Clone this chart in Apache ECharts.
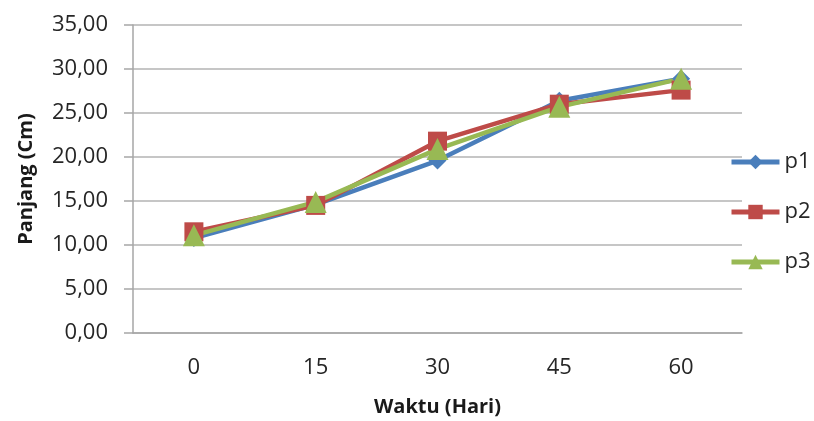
<!DOCTYPE html>
<html><head><meta charset="utf-8">
<script src="https://cdn.jsdelivr.net/npm/echarts@6/dist/echarts.min.js"></script>
<style>html,body{margin:0;padding:0;background:#fff}#c{width:814px;height:421px}</style>
</head><body><div id="c"></div>
<script>
var categories = ['0', '15', '30', '45', '60'];
var p1 = [10.8, 14.6, 19.6, 26.4, 28.9];
var p2 = [11.5, 14.5, 21.8, 26.0, 27.6];
var p3 = [11.1, 14.9, 20.9, 25.7, 28.9];
var yTicks = [0, 5, 10, 15, 20, 25, 30, 35];

var FONT = 'Open Sans';
var chart = echarts.init(document.getElementById('c'));
function mk(name, data, color, symbol, size) {
  return {
    name: name, type: 'line', data: data,
    symbol: symbol, symbolSize: size, showSymbol: true,
    lineStyle: {color: color, width: 4.5},
    itemStyle: {color: color},
    emphasis: {disabled: true},
    animation: false
  };
}
chart.setOption({
  animation: false,
  grid: {left: 133, right: 72, top: 25, bottom: 88, containLabel: false, outerBoundsMode: 'none'},
  legend: {
    orient: 'vertical', left: 724, top: 146, itemGap: 28,
    itemWidth: 48, itemHeight: 18,
    lineStyle: {width: 5},
    textStyle: {fontFamily: FONT, fontSize: 22, color: '#262626'},
    data: ['p1', 'p2', 'p3']
  },
  xAxis: {
    type: 'category', data: categories, boundaryGap: true,
    name: 'Waktu (Hari)', nameLocation: 'middle', nameGap: 64,
    nameTextStyle: {fontFamily: FONT, fontSize: 20, fontWeight: 'bold', color: '#1a1a1a'},
    axisLine: {lineStyle: {color: '#a6a6a6', width: 1.5}},
    axisTick: {show: false},
    axisLabel: {fontFamily: FONT, fontSize: 22, color: '#262626', margin: 24}
  },
  yAxis: {
    type: 'value', min: 0, max: 35, interval: 5,
    name: 'Panjang (Cm)', nameLocation: 'middle', nameGap: 97,
    nameTextStyle: {fontFamily: FONT, fontSize: 20, fontWeight: 'bold', color: '#1a1a1a'},
    axisLine: {show: true, lineStyle: {color: '#a6a6a6', width: 1.5}},
    axisTick: {show: true, inside: false, length: 9, lineStyle: {color: '#a6a6a6', width: 1.5}},
    splitLine: {lineStyle: {color: '#b3b3b3', width: 1.5}},
    axisLabel: {fontFamily: FONT, fontSize: 22, color: '#262626', margin: 25,
      formatter: function (v) { return yTicks.indexOf(v) >= 0 ? v.toFixed(2).replace('.', ',') : ''; }}
  },
  series: [
    mk('p1', p1, '#4a7ebb', 'diamond', 18),
    mk('p2', p2, '#be4b48', 'rect', 19),
    mk('p3', p3, '#98b954', 'triangle', 22)
  ]
});
</script></body></html>
